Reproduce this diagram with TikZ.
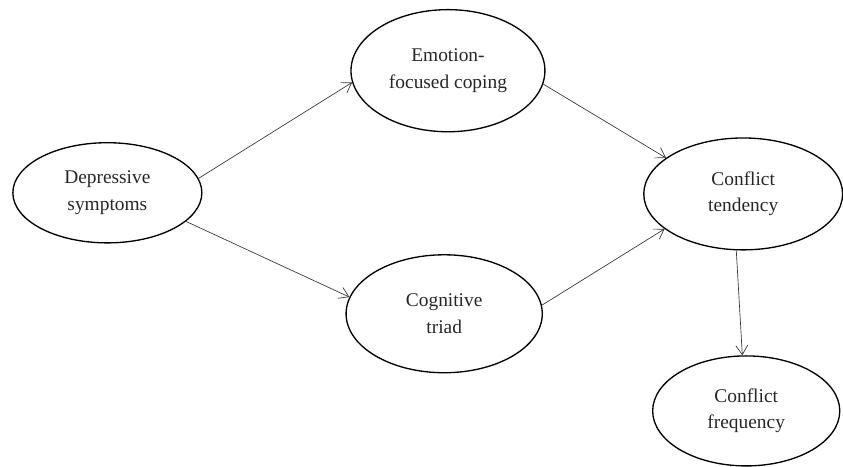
\documentclass[tikz,border=0pt]{standalone}
\usepackage{fontspec}
\setmainfont{Liberation Serif}
\usetikzlibrary{arrows.meta, shapes.geometric}

\begin{document}
\begin{tikzpicture}[
    every node/.style={font=\fontsize{14.6}{20}\selectfont, text=black!85},
    factor/.style={ellipse, draw=black, line width=1pt, align=center, inner sep=0pt},
    path/.style={->, line width=0.5pt, draw=black!80},
    >={Straight Barb[length=7pt, width=9pt]}
]
\useasboundingbox (0, 0) rectangle (22.30, 12.35);

% ===== Predictor =====
\node[factor, minimum width=5.0cm, minimum height=2.65cm] (dep) at (2.84, 7.25) {Depressive\\symptoms};

% ===== Mediators =====
\node[factor, minimum width=5.13cm, minimum height=3.23cm] (emo) at (11.85, 10.48) {Emotion-\\focused coping};
\node[factor, minimum width=5.19cm, minimum height=3.12cm] (cog) at (11.75, 4.05) {Cognitive\\triad};

% ===== Outcomes =====
\node[factor, minimum width=5.26cm, minimum height=2.96cm] (ten) at (19.66, 7.22) {Conflict\\tendency};
\node[factor, minimum width=4.95cm, minimum height=2.91cm] (freq) at (19.74, 1.48) {Conflict\\frequency};

% --- Paths ---
\draw[path] (dep.9) -- (emo.187);
\draw[path] (dep.-20) -- (cog.170);
\draw[path] (emo.-8) -- (ten.155);
\draw[path] (cog.5) -- (ten.204);
\draw[path] (ten.263) -- (freq.94);

\end{tikzpicture}
\end{document}
